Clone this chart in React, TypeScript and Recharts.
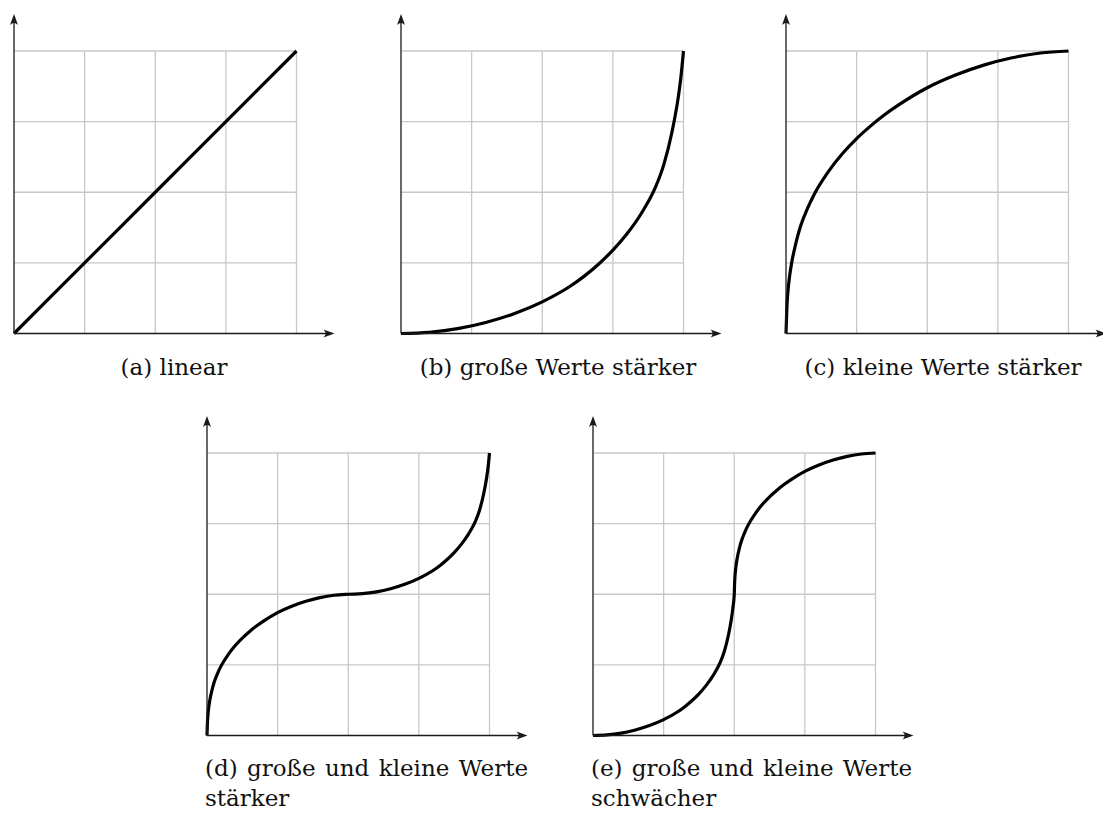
import { Line, LineChart, ReferenceDot, ReferenceLine, XAxis, YAxis } from 'recharts';

// grid lines sit at quarters of the unit square
const GRID_TICKS = [0.25, 0.5, 0.75, 1];

// (a) linear
const LINEAR_X = [0, 0.25, 0.5, 0.75, 1];
const LINEAR_Y = [0, 0.25, 0.5, 0.75, 1];

// (b) große Werte stärker
const CONVEX_X = [0, 0.1, 0.2, 0.3, 0.4, 0.5, 0.6, 0.65, 0.7, 0.75, 0.8, 0.85, 0.9, 0.93, 0.96, 0.98, 0.99, 1];
const CONVEX_Y = [0, 0.004, 0.017, 0.039, 0.07, 0.112, 0.168, 0.204, 0.246, 0.295, 0.353, 0.424, 0.516, 0.597, 0.717, 0.827, 0.9, 1];

// (c) kleine Werte stärker
const CONCAVE_X = [0, 0.003, 0.007, 0.013, 0.02, 0.035, 0.05, 0.075, 0.1, 0.15, 0.2, 0.25, 0.3, 0.35, 0.4, 0.5, 0.6, 0.7, 0.8, 0.9, 1];
const CONCAVE_Y = [0, 0.09, 0.15, 0.205, 0.25, 0.32, 0.375, 0.44, 0.493, 0.573, 0.637, 0.69, 0.735, 0.775, 0.81, 0.87, 0.915, 0.95, 0.976, 0.993, 1];

// (d) große und kleine Werte stärker
const STEEP_ENDS_X = [
    0, 0.0015, 0.0035, 0.0065, 0.01, 0.0175, 0.025, 0.0375, 0.05, 0.075, 0.1, 0.125, 0.15, 0.175, 0.2, 0.25, 0.3, 0.35, 0.4, 0.45, 0.5,
    0.55, 0.6, 0.65, 0.7, 0.75, 0.8, 0.825, 0.85, 0.875, 0.9, 0.925, 0.95, 0.965, 0.98, 0.99, 0.995, 1,
];
const STEEP_ENDS_Y = [
    0, 0.045, 0.075, 0.1025, 0.125, 0.16, 0.1875, 0.22, 0.2465, 0.2865, 0.3185, 0.345, 0.3675, 0.3875, 0.405, 0.435, 0.4575, 0.475, 0.488, 0.4965, 0.5,
    0.502, 0.5085, 0.5195, 0.535, 0.556, 0.584, 0.602, 0.623, 0.6475, 0.6765, 0.712, 0.758, 0.7985, 0.8585, 0.9135, 0.95, 1,
];

// (e) große und kleine Werte schwächer
const FLAT_ENDS_X = [
    0, 0.05, 0.1, 0.15, 0.2, 0.25, 0.3, 0.325, 0.35, 0.375, 0.4, 0.425, 0.45, 0.465, 0.48, 0.49, 0.495, 0.5,
    0.5015, 0.5035, 0.5065, 0.51, 0.5175, 0.525, 0.5375, 0.55, 0.575, 0.6, 0.625, 0.65, 0.675, 0.7, 0.75, 0.8, 0.85, 0.9, 0.95, 1,
];
const FLAT_ENDS_Y = [
    0, 0.002, 0.0085, 0.0195, 0.035, 0.056, 0.084, 0.102, 0.123, 0.1475, 0.1765, 0.212, 0.258, 0.2985, 0.3585, 0.4135, 0.45, 0.5,
    0.545, 0.575, 0.6025, 0.625, 0.66, 0.6875, 0.72, 0.7465, 0.7865, 0.8185, 0.845, 0.8675, 0.8875, 0.905, 0.935, 0.9575, 0.975, 0.988, 0.9965, 1,
];

const GRID = 282.5;
const X_OVERHANG = 38;
const Y_OVERHANG = 37;
const MARGIN = { top: 6, right: 4, bottom: 8, left: 8 };
const X_MAX = 1 + X_OVERHANG / GRID;
const Y_MAX = 1 + Y_OVERHANG / GRID;
const CHART_W = MARGIN.left + GRID + X_OVERHANG + MARGIN.right;
const CHART_H = MARGIN.top + Y_OVERHANG + GRID + MARGIN.bottom;

const COLORS = {
    grid: '#c8c8c8',
    axis: '#1a1a1a',
    curve: '#000000',
};

const CAPTION_FONT = {
    fontFamily: '"DejaVu Serif", "Liberation Serif", serif',
    fontSize: 23,
    lineHeight: '29.5px',
    color: '#111',
};

interface Point {
    x: number;
    y: number;
}

function toPoints(xs: number[], ys: number[]): Point[] {
    return xs.map((x, i) => ({ x, y: ys[i] }));
}

function ArrowRight({ cx, cy }: { cx?: number; cy?: number }) {
    if (cx == null || cy == null) return null;
    return <path d={`M${cx},${cy} L${cx - 11},${cy - 4} Q${cx - 7},${cy} ${cx - 11},${cy + 4} Z`} fill={COLORS.axis} />;
}

function ArrowUp({ cx, cy }: { cx?: number; cy?: number }) {
    if (cx == null || cy == null) return null;
    return <path d={`M${cx},${cy} L${cx - 4},${cy + 11} Q${cx},${cy + 7} ${cx + 4},${cy + 11} Z`} fill={COLORS.axis} />;
}

function CurvePanel({ points, originX, originY }: { points: Point[]; originX: number; originY: number }) {
    const left = originX - MARGIN.left;
    const top = originY - GRID - Y_OVERHANG - MARGIN.top;

    return (
        <div style={{ position: 'absolute', left, top, width: CHART_W, height: CHART_H }}>
            <LineChart width={CHART_W} height={CHART_H} data={points} margin={MARGIN}>
                <XAxis type="number" dataKey="x" domain={[0, X_MAX]} hide />
                <YAxis type="number" domain={[0, Y_MAX]} hide />
                {GRID_TICKS.map((t) => (
                    <ReferenceLine
                        key={`v${t}`}
                        segment={[{ x: t, y: 0 }, { x: t, y: 1 }]}
                        stroke={COLORS.grid}
                        strokeWidth={1.3}
                        ifOverflow="visible"
                    />
                ))}
                {GRID_TICKS.map((t) => (
                    <ReferenceLine
                        key={`h${t}`}
                        segment={[{ x: 0, y: t }, { x: 1, y: t }]}
                        stroke={COLORS.grid}
                        strokeWidth={1.3}
                        ifOverflow="visible"
                    />
                ))}
                <Line
                    type="monotone"
                    dataKey="y"
                    stroke={COLORS.curve}
                    strokeWidth={3.2}
                    dot={false}
                    activeDot={false}
                    isAnimationActive={false}
                />
                <ReferenceLine segment={[{ x: 0, y: 0 }, { x: X_MAX - 0.02, y: 0 }]} stroke={COLORS.axis} strokeWidth={1.3} ifOverflow="visible" />
                <ReferenceLine segment={[{ x: 0, y: 0 }, { x: 0, y: Y_MAX - 0.02 }]} stroke={COLORS.axis} strokeWidth={1.3} ifOverflow="visible" />
                <ReferenceDot x={X_MAX} y={0} ifOverflow="visible" shape={(p: any) => <ArrowRight cx={p.cx} cy={p.cy} />} />
                <ReferenceDot x={0} y={Y_MAX} ifOverflow="visible" shape={(p: any) => <ArrowUp cx={p.cx} cy={p.cy} />} />
            </LineChart>
        </div>
    );
}

function Caption({ lines, left, top, width, justify }: { lines: string[]; left: number; top: number; width: number; justify?: boolean }) {
    return (
        <div style={{ position: 'absolute', left, top, width, ...CAPTION_FONT }}>
            {lines.map((line, i) => (
                <div
                    key={i}
                    style={{
                        textAlign: justify ? 'justify' : 'center',
                        textAlignLast: justify && i < lines.length - 1 ? 'justify' : justify ? 'left' : 'center',
                        whiteSpace: 'nowrap',
                    }}
                >
                    {line}
                </div>
            ))}
        </div>
    );
}

export default function App() {
    return (
        <div style={{ position: 'absolute', left: 0, top: 0, width: 1103, height: 816, overflow: 'hidden', background: '#fff' }}>
            <CurvePanel points={toPoints(LINEAR_X, LINEAR_Y)} originX={14} originY={333.5} />
            <CurvePanel points={toPoints(CONVEX_X, CONVEX_Y)} originX={400.5} originY={333.5} />
            <CurvePanel points={toPoints(CONCAVE_X, CONCAVE_Y)} originX={785.5} originY={333.5} />
            <CurvePanel points={toPoints(STEEP_ENDS_X, STEEP_ENDS_Y)} originX={207} originY={735.5} />
            <CurvePanel points={toPoints(FLAT_ENDS_X, FLAT_ENDS_Y)} originX={592.5} originY={735.5} />

            <Caption lines={['(a) linear']} left={24} top={353} width={300} />
            <Caption lines={['(b) große Werte stärker']} left={408} top={353} width={300} />
            <Caption lines={['(c) kleine Werte stärker']} left={793} top={353} width={300} />
            <Caption lines={['(d) große und kleine Werte', 'stärker']} left={205} top={754} width={323} justify />
            <Caption lines={['(e) große und kleine Werte', 'schwächer']} left={591} top={754} width={321} justify />
        </div>
    );
}
